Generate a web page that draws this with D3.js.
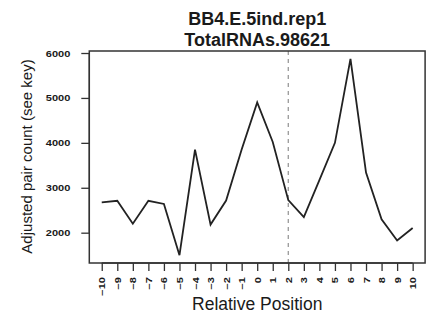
<!DOCTYPE html>
<html>
<head>
<meta charset="utf-8">
<script src="https://cdn.jsdelivr.net/npm/d3@7"></script>
<style>
  html, body { margin: 0; padding: 0; background: #fff; }
  svg { display: block; }
  text { font-family: "Liberation Sans", Arial, Helvetica, sans-serif; fill: #1a1a1a; }
</style>
</head>
<body>
<svg id="chart" width="426" height="320"></svg>
<script>
// ---- data ----
const positions = [-10,-9,-8,-7,-6,-5,-4,-3,-2,-1,0,1,2,3,4,5,6,7,8,9,10];
const counts = [2675,2710,2200,2710,2640,1500,3850,2180,2715,3850,4900,4020,2725,2345,3170,4000,5870,3340,2300,1825,2105];
const yTicks = [2000,3000,4000,5000,6000];
const xTicks = positions;
const markerPosition = 2;
const titleLines = ["BB4.E.5ind.rep1", "TotalRNAs.98621"];
const xLabel = "Relative Position";
const yLabel = "Adjusted pair count (see key)";

// ---- layout ----
const svg = d3.select("#chart");
const plot = { left: 89.3, right: 425.1, top: 51, bottom: 263 };

// R-style 4% axis extension
const xExt = d3.extent(positions), xPad = (xExt[1]-xExt[0])*0.04;
const yExt = d3.extent(counts), yPad = (yExt[1]-yExt[0])*0.04;
const x = d3.scaleLinear().domain([xExt[0]-xPad, xExt[1]+xPad]).range([plot.left, plot.right]);
const y = d3.scaleLinear().domain([yExt[0]-yPad, yExt[1]+yPad]).range([plot.bottom, plot.top]);

// dashed marker line
svg.append("line")
  .attr("x1", x(markerPosition)).attr("x2", x(markerPosition))
  .attr("y1", plot.top).attr("y2", plot.bottom)
  .attr("stroke", "#9a9a9a").attr("stroke-width", 1.3)
  .attr("stroke-dasharray", "4,4");

// data line
const line = d3.line().x((d,i) => x(positions[i])).y(d => y(d));
svg.append("path")
  .datum(counts)
  .attr("d", line)
  .attr("fill", "none")
  .attr("stroke", "#222")
  .attr("stroke-width", 1.8)
  .attr("stroke-linejoin", "miter");

// box
svg.append("rect")
  .attr("x", plot.left).attr("y", plot.top)
  .attr("width", plot.right - plot.left).attr("height", plot.bottom - plot.top)
  .attr("fill", "none").attr("stroke", "#333").attr("stroke-width", 1.5);

// y axis (R-style: line spans the tick range only)
const yAxis = d3.axisLeft(y).tickValues(yTicks).tickSize(8).tickFormat(d3.format("d"));
const gy = svg.append("g").attr("transform", `translate(${plot.left},0)`).call(yAxis);
gy.select(".domain").attr("d", `M-8,${y(yTicks[0])}H0V${y(yTicks[yTicks.length-1])}H-8`)
  .attr("stroke", "#333").attr("stroke-width", 1.3).attr("fill", "none");
gy.selectAll(".domain").remove();
gy.append("line").attr("x1", 0).attr("x2", 0)
  .attr("y1", y(yTicks[0])).attr("y2", y(yTicks[yTicks.length-1]))
  .attr("stroke", "#333").attr("stroke-width", 1.3);
gy.selectAll(".tick line").attr("stroke", "#333").attr("stroke-width", 1.3);
gy.selectAll(".tick text").each(function() {
  const t = d3.select(this);
  t.attr("x", null).attr("dy", null)
   .attr("transform", "translate(-19,3) scale(1.3,1)")
   .attr("text-anchor", "end")
   .style("font-size", "8.5px").style("font-weight", "bold").attr("fill", "#333");
});
gy.attr("font-family", null).attr("font-size", null);

// x axis
const xAxis = d3.axisBottom(x).tickValues(xTicks).tickSize(8).tickFormat(d3.format("d"));
const gx = svg.append("g").attr("transform", `translate(0,${plot.bottom})`).call(xAxis);
gx.selectAll(".domain").remove();
gx.append("line")
  .attr("x1", x(xTicks[0])).attr("x2", x(xTicks[xTicks.length-1]))
  .attr("y1", 0).attr("y2", 0)
  .attr("stroke", "#333").attr("stroke-width", 1.3);
gx.selectAll(".tick line").attr("stroke", "#333").attr("stroke-width", 1.3);
gx.selectAll(".tick text").each(function() {
  const t = d3.select(this);
  t.attr("y", null).attr("dy", null)
   .attr("transform", "translate(3,14) rotate(-90) scale(1.3,1)")
   .attr("text-anchor", "end")
   .style("font-size", "8.5px").style("font-weight", "bold").attr("fill", "#333");
});
gx.attr("font-family", null).attr("font-size", null);

// titles
const cx = (plot.left + plot.right) / 2;
svg.append("text").attr("x", cx).attr("y", 24.5).attr("text-anchor", "middle")
  .style("font-size", "18px").style("font-weight", "bold").text(titleLines[0]);
svg.append("text").attr("x", cx).attr("y", 46).attr("text-anchor", "middle")
  .style("font-size", "18px").style("font-weight", "bold").text(titleLines[1]);

// axis labels
svg.append("text").attr("x", cx).attr("y", 309.5).attr("text-anchor", "middle")
  .style("font-size", "17.5px").text(xLabel);
svg.append("text").attr("transform", `translate(32,156.5) rotate(-90)`)
  .attr("text-anchor", "middle").style("font-size", "15px").text(yLabel);
</script>
</body>
</html>
